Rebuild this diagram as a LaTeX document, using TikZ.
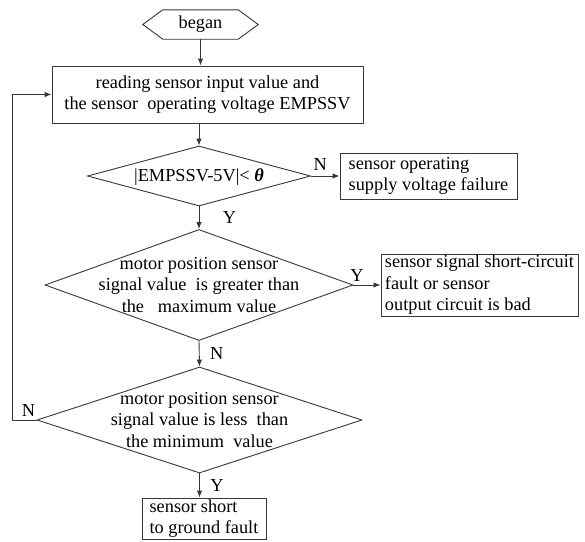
\documentclass[tikz,border=0pt]{standalone}
\usepackage{fontspec}
\setmainfont{Liberation Serif}
\usetikzlibrary{arrows.meta,positioning,calc,shapes.geometric}
\definecolor{inkBlack}{RGB}{0, 0, 0}
\definecolor{edgeGray}{RGB}{55, 55, 55}
\newcommand{\diamondtext}[1]{\makebox[0pt]{\smash{\raisebox{-6pt}{\begin{tabular}{@{}c@{}}#1\end{tabular}}}}}

\begin{document}
\begin{tikzpicture}[x=1pt, y=-1pt,
    font=\fontsize{18.3pt}{21.5pt}\selectfont, text=inkBlack,
    flowbox/.style={draw=edgeGray, line width=0.9pt, inner sep=0pt, align=left},
    decision/.style={diamond, draw=edgeGray, line width=0.9pt, inner sep=0pt},
    flowline/.style={draw=edgeGray, line width=0.9pt, -{Latex[length=7pt,width=5.5pt]}}]
    \useasboundingbox (0,0) rectangle (585,541);
    % start
    \node (began) at (200.5,24.5) [minimum width=75, minimum height=29, inner sep=0pt] {began};
    \draw[edgeGray, line width=0.9pt] (began.north west) -- (began.north east) -- ([xshift=20pt]began.east)
        -- (began.south east) -- (began.south west) -- ([xshift=-20pt]began.west) -- cycle;
    % reading
    \node[flowbox, align=center, minimum width=311, minimum height=57] (read) at (207.5,94.5)
        {reading sensor input value and\\the sensor\ \ operating voltage EMPSSV};
    % supply voltage check
    \node[decision, minimum width=223, minimum height=60] (chkV) at (199,176)
        {\diamondtext{|EMPSSV-5V|<\ {\bfseries\itshape θ}}};
    \node[flowbox, minimum width=177, minimum height=46] (failV) at (428.5,176)
        {sensor operating\\supply voltage failure};
    % maximum check
    \node[decision, minimum width=308, minimum height=111] (chkMax) at (199,285)
        {\diamondtext{motor position sensor\\signal value\ \ is greater than\\the\ \ \ maximum value}};
    \node[flowbox, minimum width=197, minimum height=62] (failShort) at (479.5,285)
        {sensor signal short-circuit\\fault or sensor\\output circuit is bad};
    % minimum check
    \node[decision, minimum width=325, minimum height=106] (chkMin) at (199.5,420)
        {\diamondtext{motor position sensor\\signal value is less\ \ than\\the minimum\ \ value}};
    \node[flowbox, minimum width=124, minimum height=41] (failGnd) at (204,518.5)
        {sensor short\\to ground fault};

    % connectors
    \draw[flowline] (began.south) -- (began.south |- read.north);
    \draw[flowline] (chkV.north |- read.south) -- (chkV.north);
    \draw[flowline] (chkV.east) -- node[above, xshift=-5pt, yshift=2pt] (noV) {N} (failV.west);
    \draw[flowline] (chkV.south) -- node[right, xshift=20pt] (yesV) {Y} (chkMax.north);
    \draw[flowline] (chkMax.east) -- node[above, xshift=-10pt] (yesMax) {Y} (failShort.west);
    \draw[flowline] (chkMax.south) -- node[right, xshift=7pt] (noMax) {N} (chkMin.north);
    \draw[flowline] (chkMin.south) -- node[right, xshift=7pt] (yesMin) {Y} (chkMin.south |- failGnd.north);
    \draw[flowline] (chkMin.west) -- node[above, xshift=4pt] (noMin) {N} ++(-24,0) |- (read.west);
\end{tikzpicture}
\end{document}
